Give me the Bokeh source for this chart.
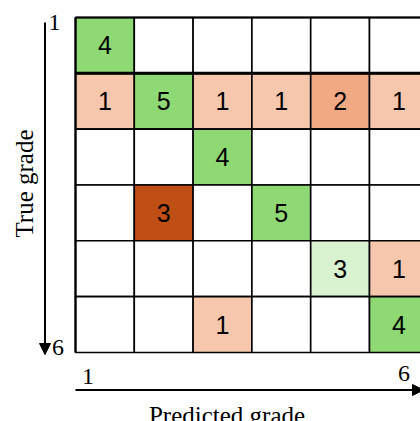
import math
from bokeh.plotting import figure
from bokeh.models import Range1d, Arrow, NormalHead, ColumnDataSource, Label
from bokeh.core.properties import value
from bokeh.embed import file_html
from bokeh.resources import INLINE

# ---- data ----
true_grades = [1, 2, 3, 4, 5, 6]
pred_grades = [1, 2, 3, 4, 5, 6]
row1 = [4, 0, 0, 0, 0, 0]
row2 = [1, 5, 1, 1, 2, 1]
row3 = [0, 0, 4, 0, 0, 0]
row4 = [0, 3, 0, 5, 0, 0]
row5 = [0, 0, 0, 0, 3, 1]
row6 = [0, 0, 1, 0, 0, 4]
counts = [row1, row2, row3, row4, row5, row6]
tick_labels = ["1", "6"]
x_title = "Predicted grade"
y_title = "True grade"

# ---- colours ----
DIAG = {3: "#D9F2D0", 4: "#8ED973", 5: "#8ED973"}
OFF = {1: "#F6C6AD", 2: "#F1A983", 3: "#C04F15"}


def cell_color(v, diag):
    if v == 0:
        return "#FFFFFF"
    return DIAG.get(v, "#8ED973") if diag else OFF.get(v, "#C04F15")


xs, ys, cols, txt_x, txt_y, txt = [], [], [], [], [], []
for i, t in enumerate(true_grades):
    for j, pg in enumerate(pred_grades):
        v = counts[i][j]
        xs.append(pg)
        ys.append(t)
        cols.append(cell_color(v, t == pg))
        if v:
            txt_x.append(pg)
            txt_y.append(t)
            txt.append(str(v))

# ---- layout mapping (page pixel -> data) ----
W, H = 420, 421
CW, CH = 58.8, 55.83
GX, GY = 75.0, 17.0  # page px of grid top-left


def dx(px):
    return 0.5 + (px - GX) / CW


def dy(py):
    return 0.5 + (py - GY) / CH


p = figure(width=W, height=H,
           x_range=Range1d(dx(0), dx(W)),
           y_range=Range1d(dy(H), dy(0)),
           output_backend="svg", toolbar_location=None,
           x_axis_location=None, y_axis_location=None,
           min_border=0, outline_line_color=None,
           background_fill_color="white", border_fill_color="white")
p.xgrid.visible = False
p.ygrid.visible = False

src = ColumnDataSource(dict(x=xs, y=ys, c=cols))
p.rect(x="x", y="y", width=1, height=1, source=src, fill_color="c",
       line_color="#000000", line_width=1.6)

p.text(x=txt_x, y=txt_y, text=txt, text_font=value("Liberation Sans"),
       text_font_size="25px", text_align="center", text_baseline="middle",
       text_color="#000000")

# emphasised borders
n = len(true_grades)
p.segment(x0=[0.5, 0.5, 0.5], y0=[0.5, 1.5, 0.5],
          x1=[n + 0.5, n + 0.5, 0.5], y1=[0.5, 1.5, n + 0.5],
          line_color="black", line_width=[2.2, 3.0, 2.2])

# arrows
p.add_layout(Arrow(end=NormalHead(size=11, fill_color="black", line_color="black"),
                   x_start=dx(44.5), y_start=dy(22), x_end=dx(44.5), y_end=dy(354),
                   line_width=2, line_color="black"))
p.add_layout(Arrow(end=NormalHead(size=11, fill_color="black", line_color="black"),
                   x_start=dx(75), y_start=dy(389.5), x_end=dx(423), y_end=dy(389.5),
                   line_width=2, line_color="black"))

serif = "Liberation Serif"


def lab(px, py, text, baseline="middle", angle=0.0, fs="24px"):
    p.add_layout(Label(x=dx(px), y=dy(py), text=text, text_font=serif,
                       text_font_size=fs, text_align="center",
                       text_baseline=baseline, text_color="#000000", angle=angle))


# tick labels
lab(54, 22, tick_labels[0])
lab(57.5, 347, tick_labels[1])
lab(87.5, 376, tick_labels[0])
lab(403.5, 373, tick_labels[1])
# titles
lab(226.5, 415, x_title, baseline="alphabetic", fs="25px")
lab(24, 183, y_title, angle=math.pi / 2, fs="25px")

open("out.html", "w").write(file_html(p, INLINE))
